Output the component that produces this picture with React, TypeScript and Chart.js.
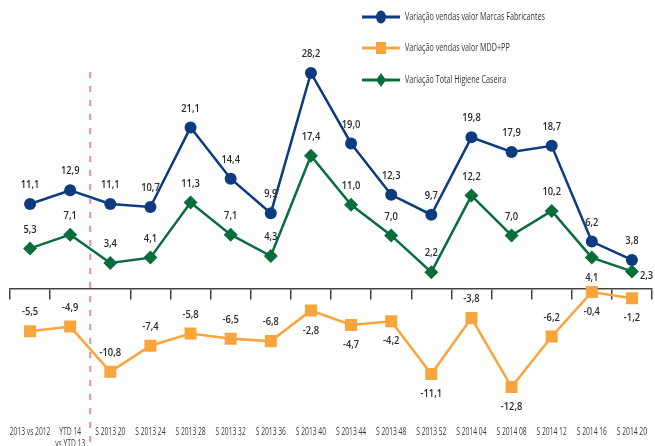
import React, { useEffect, useRef } from "react";
import { Chart, registerables } from "chart.js";

Chart.register(...registerables);

const categories: string[][] = [
  ["2013 vs 2012"],
  ["YTD 14", "vs YTD 13"],
  ["S 2013 20"],
  ["S 2013 24"],
  ["S 2013 28"],
  ["S 2013 32"],
  ["S 2013 36"],
  ["S 2013 40"],
  ["S 2013 44"],
  ["S 2013 48"],
  ["S 2013 52"],
  ["S 2014 04"],
  ["S 2014 08"],
  ["S 2014 12"],
  ["S 2014 16"],
  ["S 2014 20"],
];

const marcasFabricantes = [11.1, 12.9, 11.1, 10.7, 21.1, 14.4, 9.9, 28.2, 19.0, 12.3, 9.7, 19.8, 17.9, 18.7, 6.2, 3.8];
const mddPP = [-5.5, -4.9, -10.8, -7.4, -5.8, -6.5, -6.8, -2.8, -4.7, -4.2, -11.1, -3.8, -12.8, -6.2, -0.4, -1.2];
const totalHigiene = [5.3, 7.1, 3.4, 4.1, 11.3, 7.1, 4.3, 17.4, 11.0, 7.0, 2.2, 12.2, 7.0, 10.2, 4.1, 2.3];

const seriesNames = [
  "Variação vendas valor Marcas Fabricantes",
  "Variação vendas valor MDD+PP",
  "Variação Total Higiene Caseira",
];

const BLUE = "#0d3b80";
const ORANGE = "#f9a43c";
const GREEN = "#0a6d3c";
const FONT = "'Open Sans', 'Noto Sans', sans-serif";

// label placement overrides: dataset index -> point index -> placement
const labelPlacement: Record<number, Record<number, string>> = {
  1: { 7: "below", 8: "below", 9: "below", 10: "below", 12: "below", 14: "below", 15: "below" },
  2: { 14: "below", 15: "right" },
};

const fmt = (v: number) => v.toFixed(1).replace(".", ",");

function condensedText(ctx: any, txt: string, x: number, y: number, sx: number, align: string) {
  ctx.save();
  ctx.translate(x, y);
  ctx.scale(sx, 1);
  ctx.textAlign = align;
  ctx.textBaseline = "middle";
  ctx.fillText(txt, 0, 0);
  ctx.restore();
}

const dataLabelsPlugin = {
  id: "dataLabels",
  afterDatasetsDraw(chart: any) {
    const ctx = chart.ctx;
    ctx.save();
    ctx.font = `600 11px ${FONT}`;
    ctx.fillStyle = "#2a2a2a";
    chart.data.datasets.forEach((ds: any, di: number) => {
      const meta = chart.getDatasetMeta(di);
      meta.data.forEach((pt: any, i: number) => {
        const v = ds.data[i];
        const place = (labelPlacement[di] && labelPlacement[di][i]) || "above";
        const txt = fmt(v);
        if (place === "right") {
          condensedText(ctx, txt, pt.x + 8, pt.y + 4, 0.85, "left");
        } else if (place === "below") {
          condensedText(ctx, txt, pt.x, pt.y + 20, 0.85, "center");
        } else {
          condensedText(ctx, txt, pt.x, pt.y - 19, 0.85, "center");
        }
      });
    });
    ctx.restore();
  },
};

const categoryLabelsPlugin = {
  id: "categoryLabels",
  afterDraw(chart: any) {
    const x = chart.scales.x;
    const ctx = chart.ctx;
    ctx.save();
    ctx.font = `10.5px ${FONT}`;
    ctx.fillStyle = "#3a3a3a";
    categories.forEach((lines, i) => {
      const px = x.getPixelForValue(i);
      lines.forEach((ln, j) => {
        condensedText(ctx, ln, px, 432 + j * 12, 0.64, "center");
      });
    });
    ctx.restore();
  },
};

const dividerPlugin = {
  id: "divider",
  afterDraw(chart: any) {
    const x = chart.scales.x;
    const px = (x.getPixelForValue(1) + x.getPixelForValue(2)) / 2;
    const ctx = chart.ctx;
    ctx.save();
    ctx.strokeStyle = "#e98a9e";
    ctx.lineWidth = 2;
    ctx.setLineDash([6, 8]);
    ctx.beginPath();
    ctx.moveTo(px, 72);
    ctx.lineTo(px, chart.height);
    ctx.stroke();
    ctx.restore();
  },
};

const legendPlugin = {
  id: "customLegend",
  afterDraw(chart: any) {
    const ctx = chart.ctx;
    const rows = [17, 48, 80];
    const colors = [BLUE, ORANGE, GREEN];
    const shapes = ["circle", "rect", "diamond"];
    ctx.save();
    rows.forEach((y, i) => {
      ctx.strokeStyle = colors[i];
      ctx.lineWidth = 3;
      ctx.beginPath();
      ctx.moveTo(362, y);
      ctx.lineTo(400, y);
      ctx.stroke();
      ctx.fillStyle = colors[i];
      ctx.beginPath();
      if (shapes[i] === "circle") {
        ctx.ellipse(381, y, 5, 6.5, 0, 0, Math.PI * 2);
      } else if (shapes[i] === "rect") {
        ctx.rect(376, y - 6, 10, 12);
      } else {
        ctx.moveTo(381, y - 7);
        ctx.lineTo(386, y);
        ctx.lineTo(381, y + 7);
        ctx.lineTo(376, y);
        ctx.closePath();
      }
      ctx.fill();
      ctx.fillStyle = "#333";
      ctx.font = `10px ${FONT}`;
      condensedText(ctx, seriesNames[i], 405, y, 0.72, "left");
    });
    ctx.restore();
  },
};

export default function App() {
  const ref = useRef<HTMLCanvasElement | null>(null);

  useEffect(() => {
    if (!ref.current) return;
    const chart = new Chart(ref.current, {
      type: "line",
      data: {
        labels: categories.map((c) => c.join(" ")),
        datasets: [
          { label: seriesNames[0], data: marcasFabricantes, borderColor: BLUE, backgroundColor: BLUE, borderWidth: 2.5, pointStyle: "circle", pointRadius: 6, pointBorderWidth: 0 },
          { label: seriesNames[1], data: mddPP, borderColor: ORANGE, backgroundColor: ORANGE, borderWidth: 2.5, pointStyle: "rect", pointRadius: 8.5, pointBorderWidth: 0 },
          { label: seriesNames[2], data: totalHigiene, borderColor: GREEN, backgroundColor: GREEN, borderWidth: 2.5, pointStyle: "rectRot", pointRadius: 7, pointBorderWidth: 0 },
        ],
      },
      options: {
        animation: false,
        responsive: false,
        maintainAspectRatio: false,
        layout: { autoPadding: false, padding: { left: 10, right: 3, top: 0, bottom: 22 } },
        plugins: {
          legend: { display: false },
          tooltip: { enabled: false },
          title: { display: false },
        },
        scales: {
          x: {
            type: "category",
            position: "bottom",
            offset: true,
            grid: { display: false, drawTicks: false },
            border: { display: false },
            ticks: { display: false },
            afterFit: (s: any) => {
              s.height = 0;
            },
          },
          x2: {
            type: "category",
            position: { y: 0 } as any,
            offset: true,
            grid: {
              display: true,
              offset: true,
              drawOnChartArea: false,
              drawTicks: true,
              tickLength: 10,
              lineWidth: 1.5,
              color: (c: any) => (c.index === 2 ? "rgba(0,0,0,0)" : "#444"),
            },
            border: { display: true, color: "#444", width: 1.5 },
            ticks: { display: false },
          },
          y: { display: false, min: -17.62, max: 37.73 },
        },
      },
      plugins: [dividerPlugin, dataLabelsPlugin, categoryLabelsPlugin, legendPlugin],
    });
    return () => chart.destroy();
  }, []);

  return (
    <div style={{ position: "fixed", left: 0, top: 0, width: 655, height: 446, background: "#fff" }}>
      <canvas ref={ref} width={655} height={446} style={{ display: "block", width: 655, height: 446 }} />
    </div>
  );
}
